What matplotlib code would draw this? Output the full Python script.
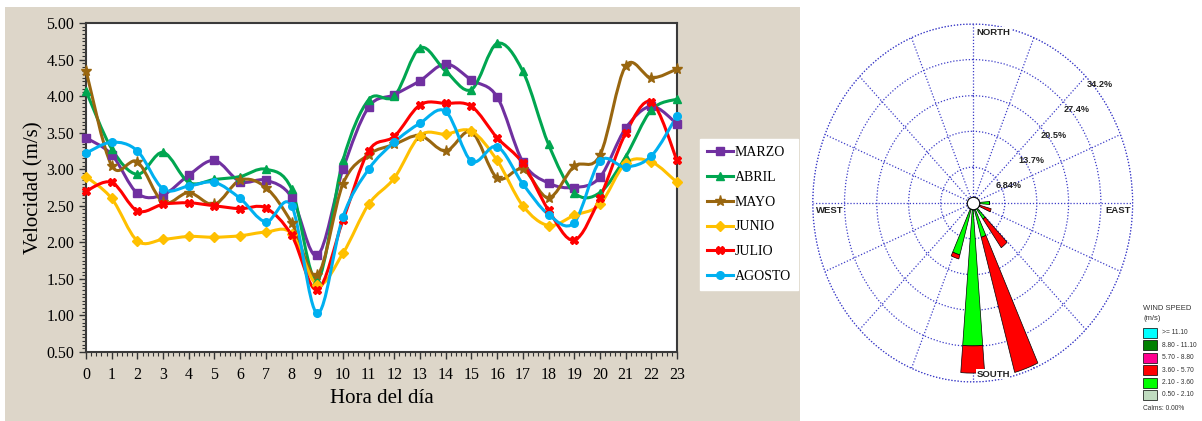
import numpy as np
import matplotlib
matplotlib.use("Agg")
import matplotlib.pyplot as plt
from matplotlib.path import Path
from matplotlib.patches import PathPatch, Rectangle
from matplotlib.lines import Line2D
from matplotlib.ticker import MultipleLocator, FormatStrFormatter

# ---- data: hourly mean wind speed (m/s) ----
hours = list(range(24))
marzo = [3.43, 3.20, 2.67, 2.65, 2.92, 3.12, 2.83, 2.85, 2.62, 1.82, 3.00, 3.85,
         4.02, 4.21, 4.44, 4.22, 3.99, 3.10, 2.81, 2.75, 2.89, 3.56, 3.86, 3.62]
abril = [4.07, 3.28, 2.93, 3.23, 2.82, 2.86, 2.90, 3.00, 2.73, 1.48, 3.12, 3.95,
         4.00, 4.66, 4.34, 4.09, 4.72, 4.34, 3.34, 2.68, 2.68, 3.17, 3.81, 3.96]
mayo = [4.35, 3.05, 3.10, 2.55, 2.68, 2.52, 2.85, 2.75, 2.27, 1.55, 2.80, 3.20,
        3.34, 3.46, 3.25, 3.51, 2.88, 3.00, 2.61, 3.04, 3.19, 4.41, 4.25, 4.37]
junio = [2.90, 2.60, 2.02, 2.04, 2.08, 2.07, 2.09, 2.14, 2.12, 1.42, 1.85, 2.52,
         2.88, 3.46, 3.48, 3.52, 3.12, 2.50, 2.23, 2.37, 2.52, 3.08, 3.10, 2.82]
julio = [2.70, 2.82, 2.43, 2.52, 2.54, 2.50, 2.46, 2.47, 2.10, 1.35, 2.30, 3.25,
         3.45, 3.88, 3.90, 3.86, 3.43, 3.08, 2.44, 2.03, 2.61, 3.49, 3.92, 3.12]
agosto = [3.22, 3.37, 3.25, 2.73, 2.77, 2.82, 2.60, 2.28, 2.50, 1.03, 2.35, 3.00,
          3.37, 3.63, 3.79, 3.11, 3.31, 2.80, 2.38, 2.27, 3.11, 3.03, 3.18, 3.73]
month_names = ["MARZO", "ABRIL", "MAYO", "JUNIO", "JULIO", "AGOSTO"]
month_colors = ["#7030a0", "#00a650", "#99660f", "#ffc000", "#ff0000", "#00b0f0"]
month_markers = ["s", "^", "*", "D", "X", "o"]

# ---- data: wind rose (frequency %, by direction and speed class) ----
rose_dirs = [90, 110, 140, 160, 180, 200]
rose_green = [3.6, 1.6, 3.8, 6.8, 27.3, 10.3]    # 2.10 - 3.60 m/s
rose_red = [0.0, 2.5, 6.7, 26.8, 5.2, 0.8]       # 3.60 - 5.70 m/s
rose_rings = [6.84, 13.7, 20.5, 27.4, 34.2]
ring_labels = ["6.84%", "13.7%", "20.5%", "27.4%", "34.2%"]
speed_classes = [">= 11.10", "8.80 - 11.10", "5.70 - 8.80", "3.60 - 5.70", "2.10 - 3.60", "0.50 - 2.10"]
speed_colors = ["#00ffff", "#008000", "#ff0090", "#ff0000", "#00ff00", "#c0dcc0"]

W, H = 1202, 421


def px(x, y):
    return x / W, 1 - y / H


def smooth_path(x, y):
    # Excel-style smoothed line (Catmull-Rom as cubic Bezier)
    pts = np.column_stack([x, y]).astype(float)
    ext = np.vstack([pts[0], pts, pts[-1]])
    verts = [pts[0]]
    codes = [Path.MOVETO]
    for i in range(len(pts) - 1):
        p0, p1, p2, p3 = ext[i], ext[i + 1], ext[i + 2], ext[i + 3]
        verts += [p1 + (p2 - p0) / 6, p2 - (p3 - p1) / 6, p2]
        codes += [Path.CURVE4] * 3
    return Path(verts, codes)


fig = plt.figure(figsize=(W / 100, H / 100), dpi=100, facecolor="white")
fig.patches.append(Rectangle(px(5, 421), 795 / W, 414 / H, transform=fig.transFigure,
                             facecolor="#ddd6c9", edgecolor="none", zorder=-5))

serif = ["Liberation Serif", "DejaVu Serif"]

# ---- left: line chart ----
ax = fig.add_axes([86 / W, 69 / H, 591 / W, 329 / H])
ax.set_facecolor("white")
series = [marzo, abril, mayo, junio, julio, agosto]
handles = []
for vals, name, col, mk in zip(series, month_names, month_colors, month_markers):
    ax.add_patch(PathPatch(smooth_path(hours, vals), facecolor="none", edgecolor=col,
                           lw=2.2, zorder=3, clip_on=False))
    ms = 8 if mk == "*" else 5.5
    ax.plot(hours, vals, linestyle="none", marker=mk, color=col, ms=ms, zorder=4, clip_on=False)
    handles.append(Line2D([], [], color=col, lw=2.2, marker=mk, ms=ms, label=name))

ax.set_xlim(0, 23)
ax.set_ylim(0.5, 5.0)
ax.xaxis.set_major_locator(MultipleLocator(1))
ax.xaxis.set_minor_locator(MultipleLocator(0.2))
ax.yaxis.set_major_locator(MultipleLocator(0.5))
ax.yaxis.set_minor_locator(MultipleLocator(0.05))
ax.yaxis.set_major_formatter(FormatStrFormatter("%.2f"))
ax.tick_params(which="major", length=5, width=1, labelsize=11.5, color="#333333")
ax.tick_params(which="minor", length=3, width=0.8, color="#333333")
ax.tick_params(axis="x", pad=6)
for lab in ax.get_xticklabels() + ax.get_yticklabels():
    lab.set_family(serif)
for sp in ax.spines.values():
    sp.set_color("#3a3a3a")
    sp.set_linewidth(1.5)
ax.set_xlabel("Hora del día", family=serif, fontsize=15, labelpad=4)
ax.set_ylabel("Velocidad (m/s)", family=serif, fontsize=15, labelpad=2)

fig.legend(handles=handles, loc="upper left", bbox_to_anchor=px(700, 139),
           prop={"family": serif, "size": 10}, frameon=True, fancybox=False,
           facecolor="white", edgecolor="white", framealpha=1, borderpad=0.5,
           labelspacing=0.85, handlelength=1.9, handletextpad=0.1, borderaxespad=0)

# ---- right: wind rose ----
cx, cy, rx, ry = 972.7, 203, 160, 179
rax = fig.add_axes([(cx - rx) / W, (H - cy - ry) / H, 2 * rx / W, 2 * ry / H], projection="polar")
rax.set_aspect("auto")
rax.set_theta_zero_location("N")
rax.set_theta_direction(-1)
rax.set_ylim(0, rose_rings[-1])
rax.set_rgrids(rose_rings, labels=[])
rax.set_thetagrids(np.arange(0, 360, 22.5), labels=[])
grid_style = dict(color="#3c3cc8", linestyle=(0, (1, 1.5)), lw=0.9)
rax.grid(True, **grid_style)
rax.spines["polar"].set_visible(False)
ring_theta = np.linspace(0, 2 * np.pi, 721)
rax.plot(ring_theta, np.full_like(ring_theta, rose_rings[-1]), clip_on=False, zorder=2, **grid_style)

theta = np.deg2rad(rose_dirs)
width = np.deg2rad(9)
rax.bar(theta, rose_green, width=width, bottom=0, color="#00ff00", edgecolor="black", lw=0.5, zorder=3)
rax.bar(theta, rose_red, width=width, bottom=rose_green, color="#ff0000", edgecolor="black", lw=0.5, zorder=3)
rax.plot([0], [0], marker="o", ms=9, mfc="white", mec="black", mew=0.8, zorder=5, clip_on=False)

for r, lab in zip(rose_rings, ring_labels):
    rax.annotate(lab, xy=(np.deg2rad(45), r), xytext=(9.7, -5.8), textcoords="offset points",
                 ha="center", va="center", fontsize=6.6, fontweight="bold", family="Liberation Sans",
                 color="#222222", zorder=6)

cardinal = dict(fontsize=6.8, fontweight="bold", family="Liberation Sans", color="#222222",
                va="center", transform=rax.transAxes, zorder=6)
rax.text(0.512, 0.977, "NORTH", ha="left", bbox=dict(facecolor="white", edgecolor="none", pad=0.3), **cardinal)
rax.text(0.512, 0.022, "SOUTH", ha="left", bbox=dict(facecolor="white", edgecolor="none", pad=0.3), **cardinal)
rax.text(0.010, 0.478, "WEST", ha="left", **cardinal)
rax.text(0.995, 0.478, "EAST", ha="right", **cardinal)

# wind speed legend
small = dict(family="Liberation Sans", color="#333333", va="center")
fig.text(*px(1143, 308), "WIND SPEED", fontsize=5.5, ha="left", **small)
fig.text(*px(1143, 318), "(m/s)", fontsize=5.5, ha="left", **small)
for i, (lab, col) in enumerate(zip(speed_classes, speed_colors)):
    y0 = 328 + i * 12.4
    fig.patches.append(Rectangle(px(1143, y0 + 10), 14 / W, 10 / H, transform=fig.transFigure,
                                 facecolor=col, edgecolor="black", lw=0.5))
    fig.text(*px(1162, y0 + 5), lab, fontsize=4.8, ha="left", **small)
fig.text(*px(1143, 409), "Calms: 0.00%", fontsize=4.8, ha="left", **small)

fig.savefig("out.png", dpi=100, facecolor="white")
